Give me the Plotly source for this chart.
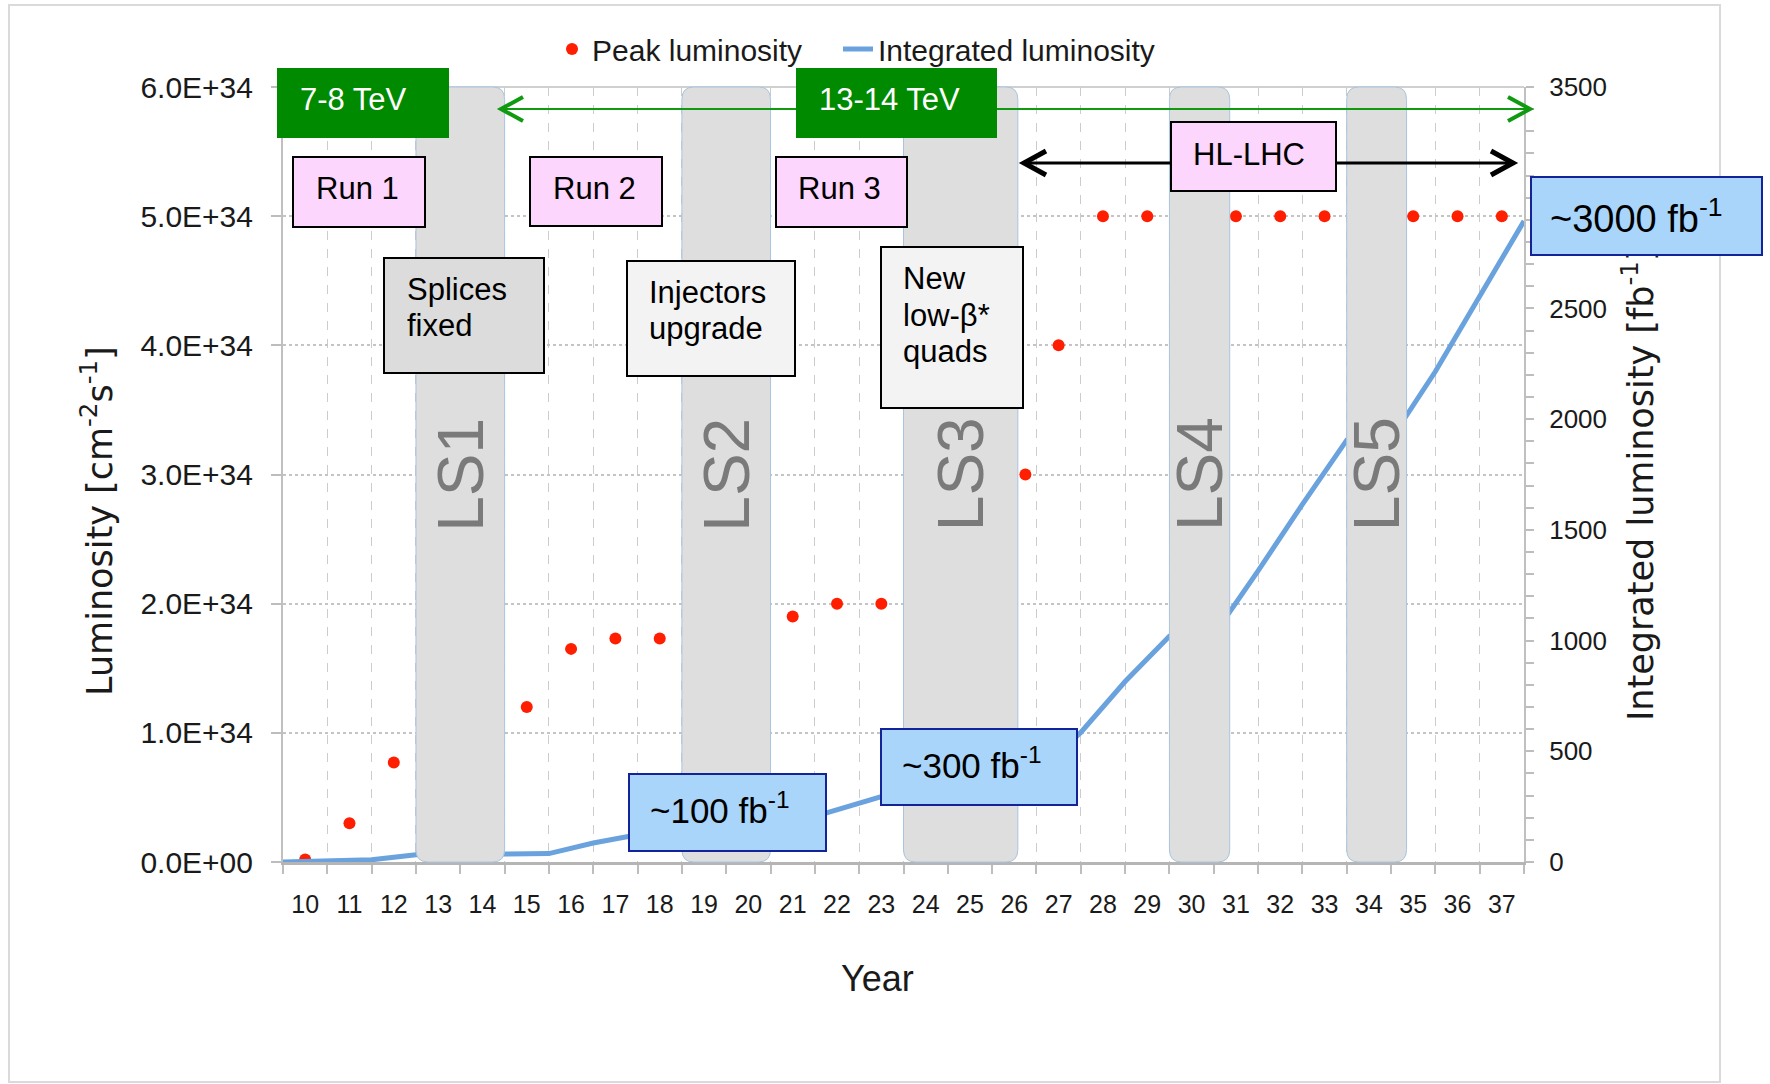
import plotly.graph_objects as go

# ---- data -------------------------------------------------------------
YEARS = list(range(10, 38))

PEAK_YEARS = [10, 11, 12, 15, 16, 17, 18, 21, 22, 23, 26.25, 27, 28, 29, 31, 32, 33, 35, 36, 37]
PEAK_LUMI = [0.02e34, 0.30e34, 0.77e34, 1.20e34, 1.65e34, 1.73e34, 1.73e34, 1.90e34, 2.0e34, 2.0e34,
             3.0e34, 4.0e34, 5.0e34, 5.0e34, 5.0e34, 5.0e34, 5.0e34, 5.0e34, 5.0e34, 5.0e34]

# integrated luminosity (fb^-1) reached at the end of each year
INT_YEARS = list(range(9, 38))
INT_LUMI = [0, 4, 10, 33, 34, 35, 38, 86, 124, 160, 162, 165, 206, 267, 325, 328, 332, 400,
            585, 815, 1020, 1025, 1315, 1615, 1905, 1910, 2215, 2555, 2895]

LUMI_TICKS = [0, 1e34, 2e34, 3e34, 4e34, 5e34, 6e34]
LUMI_TICK_LABELS = ["0.0E+00", "1.0E+34", "2.0E+34", "3.0E+34", "4.0E+34", "5.0E+34", "6.0E+34"]
INT_TICKS = [0, 500, 1000, 1500, 2000, 2500, 3000, 3500]

# long shutdowns (start / end on the year axis)
LS_NAMES = ["LS1", "LS2", "LS3", "LS4", "LS5"]
LS_START = [12.5, 18.5, 23.5, 29.5, 33.5]
LS_END = [14.5, 20.5, 26.08, 30.86, 34.85]

# ---- look -------------------------------------------------------------
ARIAL = "Liberation Sans, Arial, sans-serif"
VERDANA = "DejaVu Sans, Verdana, sans-serif"
NARROW = "Liberation Sans Narrow, Arial Narrow, Liberation Sans, sans-serif"
RED = "#ff1e00"
BLUE = "#6aa2de"
GREEN = "#008a00"
PINK = "#fdd6fd"
LIGHT_BLUE = "#a9d5fb"
DARK_BLUE = "#13249b"
TEXT = "#1a1a1a"

W, H = 1770, 1084
PL, PR, PT, PB = 283, 1524, 87, 862


def px(x, y):
    return (x - PL) / (PR - PL), (PB - y) / (PB - PT)


shapes = []
annotations = []


def box(x0, y0, x1, y1, fill, line=None, lw=2):
    a, b = px(x0, y1)
    c, d = px(x1, y0)
    shapes.append(dict(type="rect", xref="paper", yref="paper", x0=a, y0=b, x1=c, y1=d,
                       fillcolor=fill, layer="above",
                       line=dict(color=line or fill, width=lw if line else 0)))


def label(x, y, text, size=31, color="black", family=ARIAL):
    ax, ay = px(x, y)
    annotations.append(dict(xref="paper", yref="paper", x=ax, y=ay, text=text, showarrow=False,
                            xanchor="left", yanchor="middle",
                            font=dict(size=size, color=color, family=family)))


def arrow(x0, x1, y, color, lw, head_w):
    a, yy = px(x0, y)
    b, _ = px(x1, y)
    shapes.append(dict(type="line", xref="paper", yref="paper", x0=a, x1=b, y0=yy, y1=yy,
                       layer="above", line=dict(color=color, width=lw)))
    for tip, back in ((x0, x0 + 22), (x1, x1 - 22)):
        p1 = px(back, y - 12)
        p0 = px(tip, y)
        p2 = px(back, y + 12)
        shapes.append(dict(type="path", xref="paper", yref="paper", layer="above",
                           path=f"M {p1[0]},{p1[1]} L {p0[0]},{p0[1]} L {p2[0]},{p2[1]}",
                           line=dict(color=color, width=head_w)))


fig = go.Figure()
fig.add_trace(go.Scatter(
    x=PEAK_YEARS, y=PEAK_LUMI, mode="markers", name="Peak luminosity",
    marker=dict(color=RED, size=12), yaxis="y", legendwidth=241,
))
fig.add_trace(go.Scatter(
    x=[yr + 0.5 for yr in INT_YEARS], y=INT_LUMI, mode="lines", name="Integrated luminosity",
    line=dict(color=BLUE, width=5), yaxis="y2",
))

# long shutdown bands (rounded), drawn over the data
rx, ry = 0.27, 0.016
for name, s, e in zip(LS_NAMES, LS_START, LS_END):
    path = (f"M {s + rx},0 L {e - rx},0 Q {e},0 {e},{ry} L {e},{1 - ry} Q {e},1 {e - rx},1 "
            f"L {s + rx},1 Q {s},1 {s},{1 - ry} L {s},{ry} Q {s},0 {s + rx},0 Z")
    shapes.append(dict(type="path", xref="x", yref="paper", path=path, layer="above",
                       fillcolor="#dedede", line=dict(color="#a9c4e2", width=1)))
    annotations.append(dict(xref="x", yref="paper", x=(s + e) / 2, y=0.5, text=name,
                            textangle=-90, showarrow=False, xanchor="center", yanchor="middle",
                            font=dict(size=64, color="#7a7a7a", family=NARROW)))

# top frame line and outer chart border
shapes.append(dict(type="line", xref="paper", yref="paper", x0=0, x1=1, y0=1, y1=1,
                   layer="below", line=dict(color="#d0d0d0", width=2)))
b0 = px(9, 1082)
b1 = px(1720, 5)
shapes.append(dict(type="rect", xref="paper", yref="paper", x0=b0[0], y0=b0[1], x1=b1[0], y1=b1[1],
                   layer="below", line=dict(color="#dadada", width=2)))

# arrows
arrow(501, 1530, 109, "#109a10", 2, 4)
arrow(1024, 1513, 163, "black", 3, 5)

# boxes
box(277, 68, 449, 138, GREEN)
box(796, 68, 997, 138, GREEN)
box(293, 157, 425, 227, PINK, "black")
box(530, 157, 662, 226, PINK, "black")
box(776, 157, 907, 227, PINK, "black")
box(1171, 122, 1336, 191, PINK, "black")
box(384, 258, 544, 373, "#dcdcdc", "black")
box(627, 261, 795, 376, "#f3f3f3", "black")
box(881, 247, 1023, 408, "#f3f3f3", "black")
box(629, 774, 826, 851, LIGHT_BLUE, DARK_BLUE)
box(881, 729, 1077, 805, LIGHT_BLUE, DARK_BLUE)

label(298, 99, "7-8 TeV", color="white")
label(817, 99, "13-14 TeV", color="white")
label(314, 188, "Run 1")
label(551, 188, "Run 2")
label(796, 188, "Run 3")
label(1191, 154, "HL-LHC")
label(405, 289, "Splices")
label(405, 325, "fixed")
label(647, 292, "Injectors")
label(647, 328, "upgrade")
label(901, 278, "New")
label(901, 315, "low-β*")
label(901, 351, "quads")
label(648, 808, "~100 fb<sup>-1</sup>", size=35)
label(900, 763, "~300 fb<sup>-1</sup>", size=35)

# axis titles
lx, ly = px(97, 521)
annotations.append(dict(xref="paper", yref="paper", x=lx, y=ly, textangle=-90, showarrow=False,
                        xanchor="center", yanchor="middle",
                        text="Luminosity [cm<sup>-2</sup>s<sup>-1</sup>]",
                        font=dict(size=35, color=TEXT, family=VERDANA)))
rx_, ry_ = px(1638, 484)
annotations.append(dict(xref="paper", yref="paper", x=rx_, y=ry_, textangle=-90, showarrow=False,
                        xanchor="center", yanchor="middle",
                        text="Integrated luminosity [fb<sup>-1</sup>]",
                        font=dict(size=35, color=TEXT, family=VERDANA)))
yx, yy = px(877, 979)
annotations.append(dict(xref="paper", yref="paper", x=yx, y=yy, text="Year", showarrow=False,
                        xanchor="center", yanchor="middle",
                        font=dict(size=36, color=TEXT, family=ARIAL)))

# ~3000 box sits on top of the right axis title
tx, ty = px(1530, 176)
annotations.append(dict(xref="paper", yref="paper", x=tx, y=ty, xanchor="left", yanchor="top",
                        text="~3000 fb<sup>-1</sup>", showarrow=False, align="left", valign="middle",
                        width=193, height=40, borderpad=18, borderwidth=2,
                        bgcolor=LIGHT_BLUE, bordercolor=DARK_BLUE,
                        font=dict(size=38, color="black", family=ARIAL)))

leg_x, leg_y = px(552, 49)
fig.update_layout(
    width=W, height=H,
    margin=dict(l=PL, r=W - PR, t=PT, b=H - PB),
    paper_bgcolor="white", plot_bgcolor="white",
    font=dict(family=ARIAL, color=TEXT),
    showlegend=True,
    legend=dict(orientation="h", x=leg_x, xanchor="left", y=leg_y, yanchor="middle",
                font=dict(size=30, family=ARIAL, color=TEXT), bgcolor="rgba(0,0,0,0)"),
    xaxis=dict(
        range=[9.5, 37.5], tickmode="array", tickvals=YEARS, ticktext=[str(y) for y in YEARS],
        ticks="", showgrid=False, zeroline=False,
        showline=True, linecolor="#b5b5b5", linewidth=3,
        tickfont=dict(size=25, family=ARIAL, color=TEXT), ticklabelstandoff=18,
        minor=dict(tickmode="linear", tick0=9.5, dtick=1, ticks="outside", ticklen=9,
                   tickcolor="#bdbdbd", tickwidth=1.5, showgrid=True,
                   gridcolor="#cccccc", griddash="dash", gridwidth=1),
    ),
    yaxis=dict(
        range=[0, 6e34], tickmode="array", tickvals=LUMI_TICKS, ticktext=LUMI_TICK_LABELS,
        ticks="outside", ticklen=10, tickcolor="#bdbdbd", tickwidth=2,
        showline=True, linecolor="#c0c0c0", linewidth=2, zeroline=False,
        showgrid=True, gridcolor="#c4c4c4", griddash="dot", gridwidth=1.5,
        tickfont=dict(size=30, family=ARIAL, color=TEXT), ticklabelstandoff=12,
    ),
    yaxis2=dict(
        overlaying="y", side="right", range=[0, 3500], tickmode="array", tickvals=INT_TICKS,
        ticks="outside", ticklen=8, tickcolor="#bdbdbd", tickwidth=1.5,
        showline=True, linecolor="#c0c0c0", linewidth=2, showgrid=False, zeroline=False,
        tickfont=dict(size=26, family=ARIAL, color=TEXT), ticklabelstandoff=10,
        minor=dict(tickmode="linear", tick0=0, dtick=100, ticks="outside", ticklen=8,
                   tickcolor="#bdbdbd", tickwidth=1.5),
    ),
    shapes=shapes,
    annotations=annotations,
)

fig.write_html("out.html", config={"displayModeBar": False},
               post_script="document.body.style.margin='0';document.body.style.overflow='hidden';")
